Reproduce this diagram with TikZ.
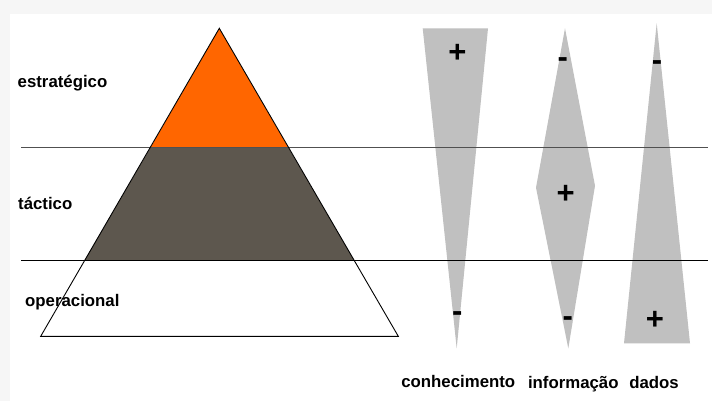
\documentclass[tikz,border=0pt]{standalone}
\usepackage{fontspec}
\setmainfont{Liberation Sans}
\definecolor{orangetop}{HTML}{FF6600}
\definecolor{darkmid}{HTML}{5D574E}
\definecolor{shapegray}{HTML}{C0C0C0}
\definecolor{lineone}{HTML}{505050}
\begin{document}
\begin{tikzpicture}[x=1pt,y=-1pt,
  lbl/.style={font=\fontsize{16.8}{18}\selectfont\bfseries, inner sep=0pt, anchor=base},
  sgn/.style={font=\fontsize{31}{32}\selectfont\bfseries, inner sep=0pt, anchor=base},
  sep/.style={line width=1.4pt},
  outl/.style={draw=black, line width=0.9pt, line join=miter}]
\useasboundingbox (0,0) rectangle (712,401);
\fill[gray!7] (0,0) rectangle (712,401);
\fill[white] (10,14) rectangle (712,401);
% pyramid
\coordinate (apex) at (219.3,28.3);
\coordinate (l1) at (150.4,147.7);
\coordinate (r1) at (288.4,147.7);
\coordinate (l2) at (84.6,260.3);
\coordinate (r2) at (354.2,260.3);
\coordinate (bl) at (40.7,336.3);
\coordinate (br) at (398.3,336.3);
\fill[orangetop] (apex) -- (l1) -- (r1) -- cycle;
\fill[darkmid] (l1) -- (r1) -- (r2) -- (l2) -- cycle;
% right shapes
\fill[shapegray] (422.7,28.3) -- (488,28.3) -- (456.7,348.3) -- cycle;
\fill[shapegray] (565,28.3) -- (595,185.7) -- (568.3,348.3) -- (536,187.7) -- cycle;
\fill[shapegray] (656.7,23.3) -- (690,343.3) -- (624,343.3) -- cycle;
% separator lines
\coordinate (s1a) at (21,147.7);
\coordinate (s1b) at (708,147.7);
\coordinate (s2a) at (21,260.3);
\coordinate (s2b) at (708,260.3);
\draw[sep, draw=lineone] (s1a) -- (s1b);
\draw[sep, draw=black] (s2a) -- (s2b);
\draw[outl] (apex) -- (bl) -- (br) -- cycle;
% level labels
\node[lbl, anchor=base west] (estr) at (17.5,88) {estratégico};
\node[lbl, anchor=base west] (tact) at (18,209) {táctico};
\node[lbl, anchor=base west] (oper) at (25,306) {operacional};
% column labels
\node[lbl] (conh) at (458.3,387) {conhecimento};
\node[lbl] (info) at (573.3,388) {informação};
\node[lbl] (dado) at (654,388) {dados};
% signs (plus: centre + 11; minus: centre + 7.5)
\node[sgn] (cplus) at (457.3,62.7) {+};
\node[sgn] (cminus) at (457.3,321.8) {-};
\node[sgn] (iminus1) at (562.7,67.5) {-};
\node[sgn] (iplus) at (565.7,203.3) {+};
\node[sgn] (iminus2) at (567.7,326.5) {-};
\node[sgn] (dminus) at (657,70.8) {-};
\node[sgn] (dplus) at (655,329.3) {+};
\end{tikzpicture}
\end{document}
